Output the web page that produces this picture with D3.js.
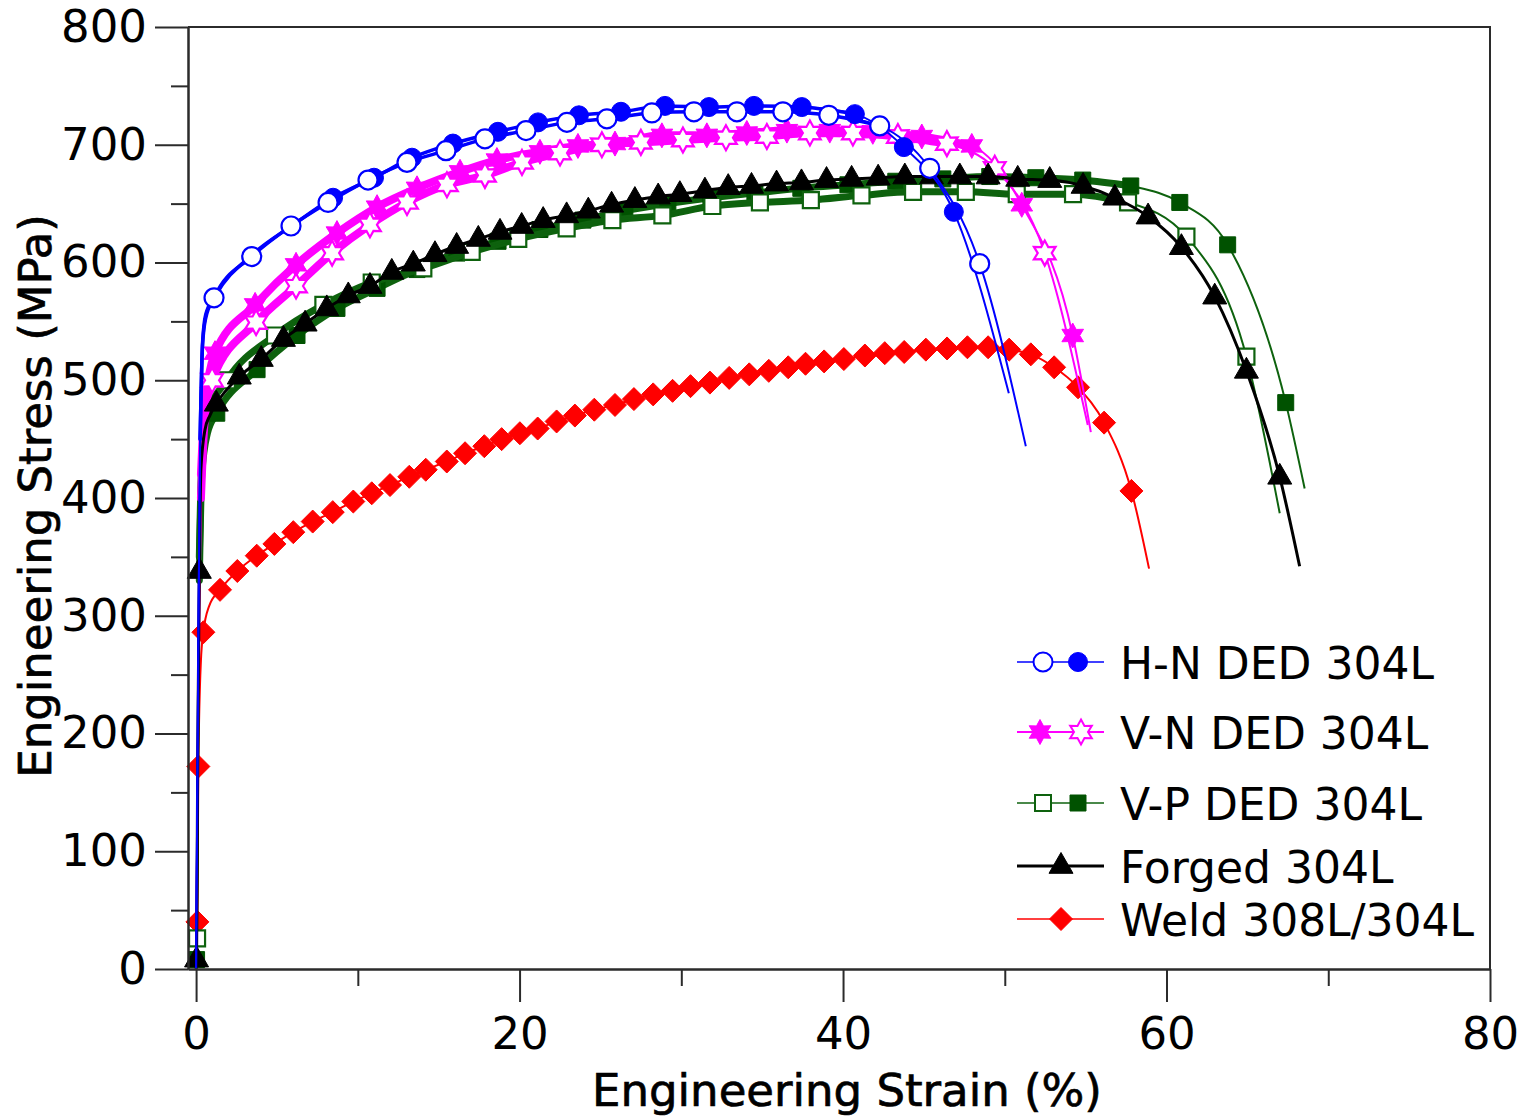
<!DOCTYPE html>
<html>
<head>
<meta charset="utf-8">
<script src="https://cdn.jsdelivr.net/npm/d3@7"></script>
<style>
  html, body { margin: 0; padding: 0; background: #fff; }
  svg { display: block; font-family: "DejaVu Sans", Verdana, sans-serif; }
</style>
</head>
<body>
<svg id="chart" width="1526" height="1117"></svg>
<script>
// ---------------- data: [engineering strain (%), engineering stress (MPa)] ----------------
// H-N DED 304L
const hnOpenLoad  = [[0,0],[0.15,300],[0.25,450],[0.4,530],[0.6,553]];
const hnOpenMarks = [[1.11,570],[3.44,605],[5.87,631],[8.16,651],[10.63,670],[13.04,685],[15.45,695],[17.86,705],[20.40,712],[22.93,719],[25.40,722],[28.18,727],[30.78,728],[33.44,728],[36.28,728],[39.12,725],[42.27,716],[45.36,680],[48.45,599]];
const hnOpenTail  = [[51.30,444]];
const hnFillLoad  = [[0,0],[0.15,300],[0.25,450],[0.4,532],[0.6,556],[1.2,572],[3.5,607],[6.0,632]];
const hnFillMarks = [[8.47,655],[11.0,672],[13.35,689],[15.88,701],[18.66,711],[21.14,719],[23.67,725],[26.27,728],[28.99,733],[31.71,732],[34.49,733],[37.45,732],[40.73,726],[43.76,698],[46.85,643]];
const hnFillTail  = [[50.25,489]];

// V-N DED 304L
const vnFillLoad  = [[0,0],[0.15,250],[0.3,420],[0.5,475],[0.8,505]];
const vnFillMarks = [[1.17,523],[3.65,564],[6.18,598],[8.71,625],[11.19,647],[13.66,663],[16.32,677],[18.60,687],[21.26,694],[23.61,699],[25.90,701],[28.80,708],[31.58,708],[34.05,710],[36.53,712],[39.18,712],[41.84,711],[44.87,707],[47.96,699],[51.05,649],[54.20,538]];
const vnFillTail  = [[55.32,456]];
const vnOpenLoad  = [[0,0],[0.15,250],[0.3,400],[0.5,460],[0.7,485]];
const vnOpenMarks = [[0.99,500],[3.71,549],[6.18,580],[8.41,608],[10.75,632],[13.04,651],[15.51,666],[17.86,674],[20.15,685],[22.50,693],[25.09,700],[27.50,702],[30.10,704],[32.76,706],[35.29,707],[37.95,710],[40.61,710],[43.39,707],[46.42,701],[49.38,680],[52.47,608]];
const vnOpenTail  = [[55.13,462]];

// V-P DED 304L
const vpOpenLoad  = [[0,0],[0.2,350],[0.35,430],[0.7,470]];
const vpOpenMarks = [[0.06,26],[1.90,500],[4.88,538],[7.87,564],[10.86,583],[14.05,595],[17.04,609],[19.92,620],[22.91,629],[25.74,636],[28.83,640],[31.92,648],[34.86,651],[38.01,653],[41.14,657],[44.33,660],[47.59,660],[50.74,658],[54.22,658],[57.62,651],[61.23,622],[64.94,520]];
const vpOpenTail  = [[67.00,387]];
const vpFillLoad  = [[0,0],[0.2,330],[0.35,420],[0.7,455]];
const vpFillMarks = [[0.03,8],[1.28,472],[3.77,509],[6.24,538],[8.71,561],[11.19,578],[13.66,594],[16.13,608],[18.67,618],[21.26,628],[23.92,636],[26.51,644],[29.17,650],[31.83,655],[34.55,659],[37.39,663],[40.30,666],[43.26,669],[46.17,671],[49.07,673],[51.92,672],[54.82,670],[57.79,665],[60.82,651],[63.78,615],[67.37,481]];
const vpFillTail  = [[68.54,408]];

// Forged 304L
const fgLoad  = [[0,0],[0.1,180],[0.3,425],[0.55,458],[0.85,470]];
const fgMarks = [[0.03,8],[0.20,338],[1.25,480],[2.67,503],[4.03,518],[5.40,535],[6.74,548],[8.08,561],[9.41,572],[10.75,580],[12.10,592],[13.43,599],[14.77,607],[16.11,614],[17.45,620],[18.79,626],[20.13,631],[21.46,636],[22.91,640],[24.25,644],[25.69,649],[27.13,653],[28.57,656],[29.91,658],[31.46,661],[32.90,664],[34.34,665],[35.89,667],[37.43,668],[38.98,670],[40.53,671],[42.17,672],[43.82,673],[45.47,673],[47.22,673],[48.97,673],[50.80,671],[52.78,670],[54.84,665],[56.80,655],[58.86,639],[60.92,613],[62.98,571],[64.94,508],[67.00,418]];
const fgTail  = [[68.23,342]];

// Weld 308L/304L
const wdLoad  = [[0,0],[0.3,262],[0.8,308]];
const wdMarks = [[0.08,40],[0.14,172],[0.45,286],[1.48,322],[2.55,338],[3.75,351],[4.84,361],[6.01,371],[7.21,380],[8.45,388],[9.72,397],[10.86,404],[11.99,411],[13.18,418],[14.2,424],[15.5,431],[16.63,438],[17.82,444],[18.89,450],[20.02,455],[21.12,459],[22.29,465],[23.42,470],[24.62,475],[25.90,479],[27.07,484],[28.26,488],[29.46,491],[30.57,495],[31.77,498],[32.96,502],[34.20,505],[35.41,508],[36.61,511],[37.68,514],[38.83,516],[40.05,518],[41.35,521],[42.58,523],[43.78,524],[45.12,526],[46.43,527],[47.69,528],[48.97,528],[50.27,526],[51.61,522],[53.05,511],[54.53,494],[56.14,464],[57.83,406]];
const wdTail  = [[58.92,340]];

// axis ticks
const xMajorTicks = [0, 20, 40, 60, 80];
const xMinorTicks = [10, 30, 50, 70];
const yMajorTicks = [0, 100, 200, 300, 400, 500, 600, 700, 800];
const yMinorTicks = [50, 150, 250, 350, 450, 550, 650, 750];

const xTitle = "Engineering Strain (%)";
const yTitle = "Engineering Stress (MPa)";

// ---------------- drawing ----------------
const svg = d3.select("#chart");
const x = d3.scaleLinear().domain([-0.5, 80]).range([188, 1490]);
const y = d3.scaleLinear().domain([0, 800]).range([969, 27]);
const AXIS = "#2b2b2b";

function markerPath(kind) {
  switch (kind) {
    case "circle": return d3.symbol(d3.symbolCircle, Math.PI * 9.5 * 9.5)();
    case "square": { const h = 8; return `M${-h},${-h}H${h}V${h}H${-h}Z`; }
    case "triangle": return "M0,-13.5L12,7.3L-12,7.3Z";
    case "diamond": return "M0,-11.5L11.5,0L0,11.5L-11.5,0Z";
    case "star": {
      const pts = [];
      for (let i = 0; i < 12; i++) {
        const a = -Math.PI / 2 + i * Math.PI / 6;
        const r = i % 2 ? 7.0 : 12.5;
        pts.push([r * Math.cos(a), r * Math.sin(a)]);
      }
      return "M" + pts.map(p => p.join(",")).join("L") + "Z";
    }
  }
}

// series styling; each specimen: load (unmarked), marks (with symbol), tail (unmarked)
const series = [
  { name: "Weld 308L/304L", color: "#ff0000", lineW: 2, legendLineW: 1.6,
    specimens: [{ load: wdLoad, marks: wdMarks, tail: wdTail, kind: "diamond", filled: true }],
    legendMarks: [{ kind: "diamond", filled: true, dx: 44 }] },
  { name: "V-P DED 304L", color: "#0e620e", markFill: "#005200", lineW: 2, legendLineW: 1.6, band: 7, bandEnd: 60,
    specimens: [
      { load: vpFillLoad, marks: vpFillMarks, tail: vpFillTail, kind: "square", filled: true },
      { load: vpOpenLoad, marks: vpOpenMarks, tail: vpOpenTail, kind: "square", filled: false }],
    legendMarks: [{ kind: "square", filled: false, dx: 26 }, { kind: "square", filled: true, dx: 61 }] },
  { name: "V-N DED 304L", color: "#ff00ff", lineW: 2, legendLineW: 2, band: 8, bandEnd: 49,
    specimens: [
      { load: vnFillLoad, marks: vnFillMarks, tail: vnFillTail, kind: "star", filled: true },
      { load: vnOpenLoad, marks: vnOpenMarks, tail: vnOpenTail, kind: "star", filled: false }],
    legendMarks: [{ kind: "star", filled: true, dx: 23 }, { kind: "star", filled: false, dx: 64 }] },
  { name: "Forged 304L", color: "#000000", lineW: 3, legendLineW: 3,
    specimens: [{ load: fgLoad, marks: fgMarks, tail: fgTail, kind: "triangle", filled: true }],
    legendMarks: [{ kind: "triangle", filled: true, dx: 44 }] },
  { name: "H-N DED 304L", color: "#0000ff", lineW: 2, legendLineW: 1.6, band: 3.5, bandEnd: 43,
    specimens: [
      { load: hnFillLoad, marks: hnFillMarks, tail: hnFillTail, kind: "circle", filled: true },
      { load: hnOpenLoad, marks: hnOpenMarks, tail: hnOpenTail, kind: "circle", filled: false }],
    legendMarks: [{ kind: "circle", filled: false, dx: 26 }, { kind: "circle", filled: true, dx: 61 }] }
];
const legendOrder = ["H-N DED 304L", "V-N DED 304L", "V-P DED 304L", "Forged 304L", "Weld 308L/304L"];

const line = d3.line().x(d => x(d[0])).y(d => y(d[1])).curve(d3.curveMonotoneX);

const plot = svg.append("g");
series.forEach(s => {
  s.specimens.forEach(sp => {
    const pts = [...sp.load, ...sp.marks, ...sp.tail].sort((a, b) => a[0] - b[0]);
    const g = plot.append("g");
    if (s.band) {
      g.append("path").attr("d", line(pts.filter(p => p[0] <= s.bandEnd && p[1] > 300)))
        .attr("fill", "none").attr("stroke", s.color).attr("stroke-width", s.band)
        .attr("stroke-linejoin", "round").attr("stroke-linecap", "round");
    }
    g.append("path").attr("d", line(pts))
      .attr("fill", "none").attr("stroke", s.color).attr("stroke-width", s.lineW)
      .attr("stroke-linejoin", "round");
    g.selectAll("path.mk").data(sp.marks).join("path").attr("class", "mk")
      .attr("d", markerPath(sp.kind))
      .attr("transform", d => `translate(${x(d[0])},${y(d[1])})`)
      .attr("fill", sp.filled ? (s.markFill || s.color) : "#fff")
      .attr("stroke", sp.filled ? (s.markFill || s.color) : s.color)
      .attr("stroke-width", sp.filled ? 1 : 2.2);
  });
});

// axes
function styleAxis(g) {
  g.selectAll("path.domain").attr("stroke", AXIS).attr("stroke-width", 2);
  g.selectAll(".tick line").attr("stroke", AXIS).attr("stroke-width", 2);
  g.selectAll(".tick text").attr("fill", "#000").style("font-size", "45px")
    .style("font-family", '"DejaVu Sans", Verdana, sans-serif');
}
const yAxis = svg.append("g").attr("transform", "translate(188,0)")
  .call(d3.axisLeft(y).tickValues(yMajorTicks).tickSize(33).tickSizeOuter(0).tickPadding(8).tickFormat(d3.format("d")));
styleAxis(yAxis);
const yMinor = svg.append("g").attr("transform", "translate(188,0)")
  .call(d3.axisLeft(y).tickValues(yMinorTicks).tickSize(17).tickSizeOuter(0).tickFormat(""));
styleAxis(yMinor);
const xAxis = svg.append("g").attr("transform", "translate(0,969)")
  .call(d3.axisBottom(x).tickValues(xMajorTicks).tickSize(33).tickSizeOuter(0).tickPadding(15).tickFormat(d3.format("d")));
styleAxis(xAxis);
const xMinor = svg.append("g").attr("transform", "translate(0,969)")
  .call(d3.axisBottom(x).tickValues(xMinorTicks).tickSize(17).tickSizeOuter(0).tickFormat(""));
styleAxis(xMinor);

// frame top and right
svg.append("path")
  .attr("d", `M${x.range()[0]},${y(800)}H${x.range()[1]}V${y(0)}`)
  .attr("fill", "none").attr("stroke", AXIS).attr("stroke-width", 2);

// titles
svg.append("text").attr("x", 847).attr("y", 1106).attr("text-anchor", "middle")
  .style("font-size", "45px").attr("fill", "#000").attr("stroke", "#000").attr("stroke-width", 0.7)
  .text(xTitle);
svg.append("text").attr("transform", "translate(51,496) rotate(-90)").attr("text-anchor", "middle")
  .style("font-size", "45px").attr("fill", "#000").attr("stroke", "#000").attr("stroke-width", 0.7)
  .text(yTitle);

// legend
const legendRows = [662, 732, 803, 866, 919];
const legend = svg.append("g");
legendOrder.forEach((nm, i) => {
  const s = series.find(d => d.name === nm);
  const yy = legendRows[i];
  const g = legend.append("g").attr("transform", `translate(1017,${yy})`);
  g.append("line").attr("x1", 0).attr("x2", 87).attr("y1", 0).attr("y2", 0)
    .attr("stroke", s.color).attr("stroke-width", s.legendLineW);
  s.legendMarks.forEach(m => {
    g.append("path").attr("d", markerPath(m.kind)).attr("transform", `translate(${m.dx},0)`)
      .attr("fill", m.filled ? (s.markFill || s.color) : "#fff")
      .attr("stroke", m.filled ? (s.markFill || s.color) : s.color)
      .attr("stroke-width", m.filled ? 1 : 2);
  });
  g.append("text").attr("x", 103).attr("y", 17).style("font-size", "44px").attr("fill", "#000")
    .text(s.name);
});
</script>
</body>
</html>
